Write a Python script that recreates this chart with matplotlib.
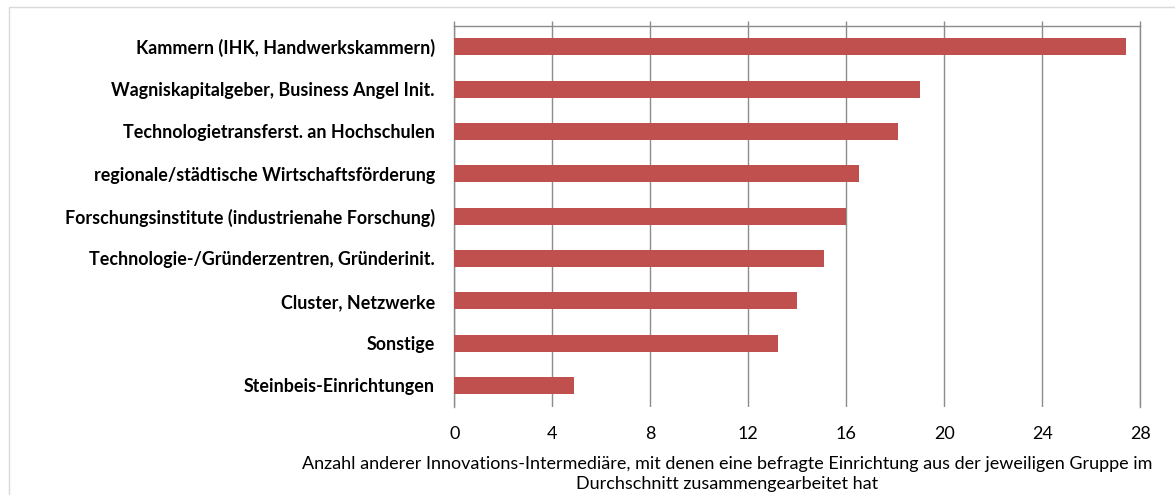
import matplotlib
matplotlib.use("Agg")
import matplotlib.pyplot as plt
from matplotlib.patches import Rectangle

# data, top to bottom
kategorien = [
    "Kammern (IHK, Handwerkskammern)",
    "Wagniskapitalgeber, Business Angel Init.",
    "Technologietransferst. an Hochschulen",
    "regionale/städtische Wirtschaftsförderung",
    "Forschungsinstitute (industrienahe Forschung)",
    "Technologie-/Gründerzentren, Gründerinit.",
    "Cluster, Netzwerke",
    "Sonstige",
    "Steinbeis-Einrichtungen",
]
werte = [27.4, 19.0, 18.1, 16.5, 16.0, 15.1, 14.0, 13.2, 4.9]
xticks = [0, 4, 8, 12, 16, 20, 24, 28]
xlabel = ("Anzahl anderer Innovations-Intermediäre, mit denen eine befragte Einrichtung aus der jeweiligen Gruppe im\n"
          "Durchschnitt zusammengearbeitet hat")

plt.rcParams['font.family'] = ['Lato', 'DejaVu Sans']
W, H = 1175, 495
fig = plt.figure(figsize=(W / 100, H / 100), dpi=100)
ax = fig.add_axes([454.3 / W, 1 - 406.6 / H, (1140.3 - 454.3) / W, (406.6 - 25.6) / H])

grau = "#8c8c8c"
ypos = list(range(len(kategorien)))
ax.barh(ypos, werte, height=0.40, color="#C0504D", zorder=3)
ax.set_ylim(len(kategorien) - 0.5, -0.5)
ax.set_xlim(0, 28)
ax.set_xticks(xticks)
ax.set_xticklabels([str(t) for t in xticks], fontsize=13)
ax.set_yticks(ypos)
ax.set_yticklabels(kategorien, fontsize=12.9, fontweight="bold")

ax.grid(axis="x", color=grau, linewidth=1.0, zorder=0)
ax.tick_params(axis="y", length=0, pad=14)
ax.tick_params(axis="x", which="both", bottom=False, top=True, labeltop=False,
               labelbottom=True, direction="out", length=3.6, color=grau, width=1.0, pad=10.5)
for s in ["left", "right", "top"]:
    ax.spines[s].set_color(grau)
    ax.spines[s].set_linewidth(1.0)
ax.spines["bottom"].set_visible(False)

fig.text(727 / W, 1 - 474 / H, xlabel, ha="center", va="center", fontsize=13, linespacing=1.3)

# chart frame
fig.patches.append(Rectangle((9 / W, -0.05), 1.1, 1 - 7 / H + 0.05, transform=fig.transFigure,
                             fill=False, edgecolor="#d9d9d9", linewidth=1.0))

fig.savefig("out.png", dpi=100)
